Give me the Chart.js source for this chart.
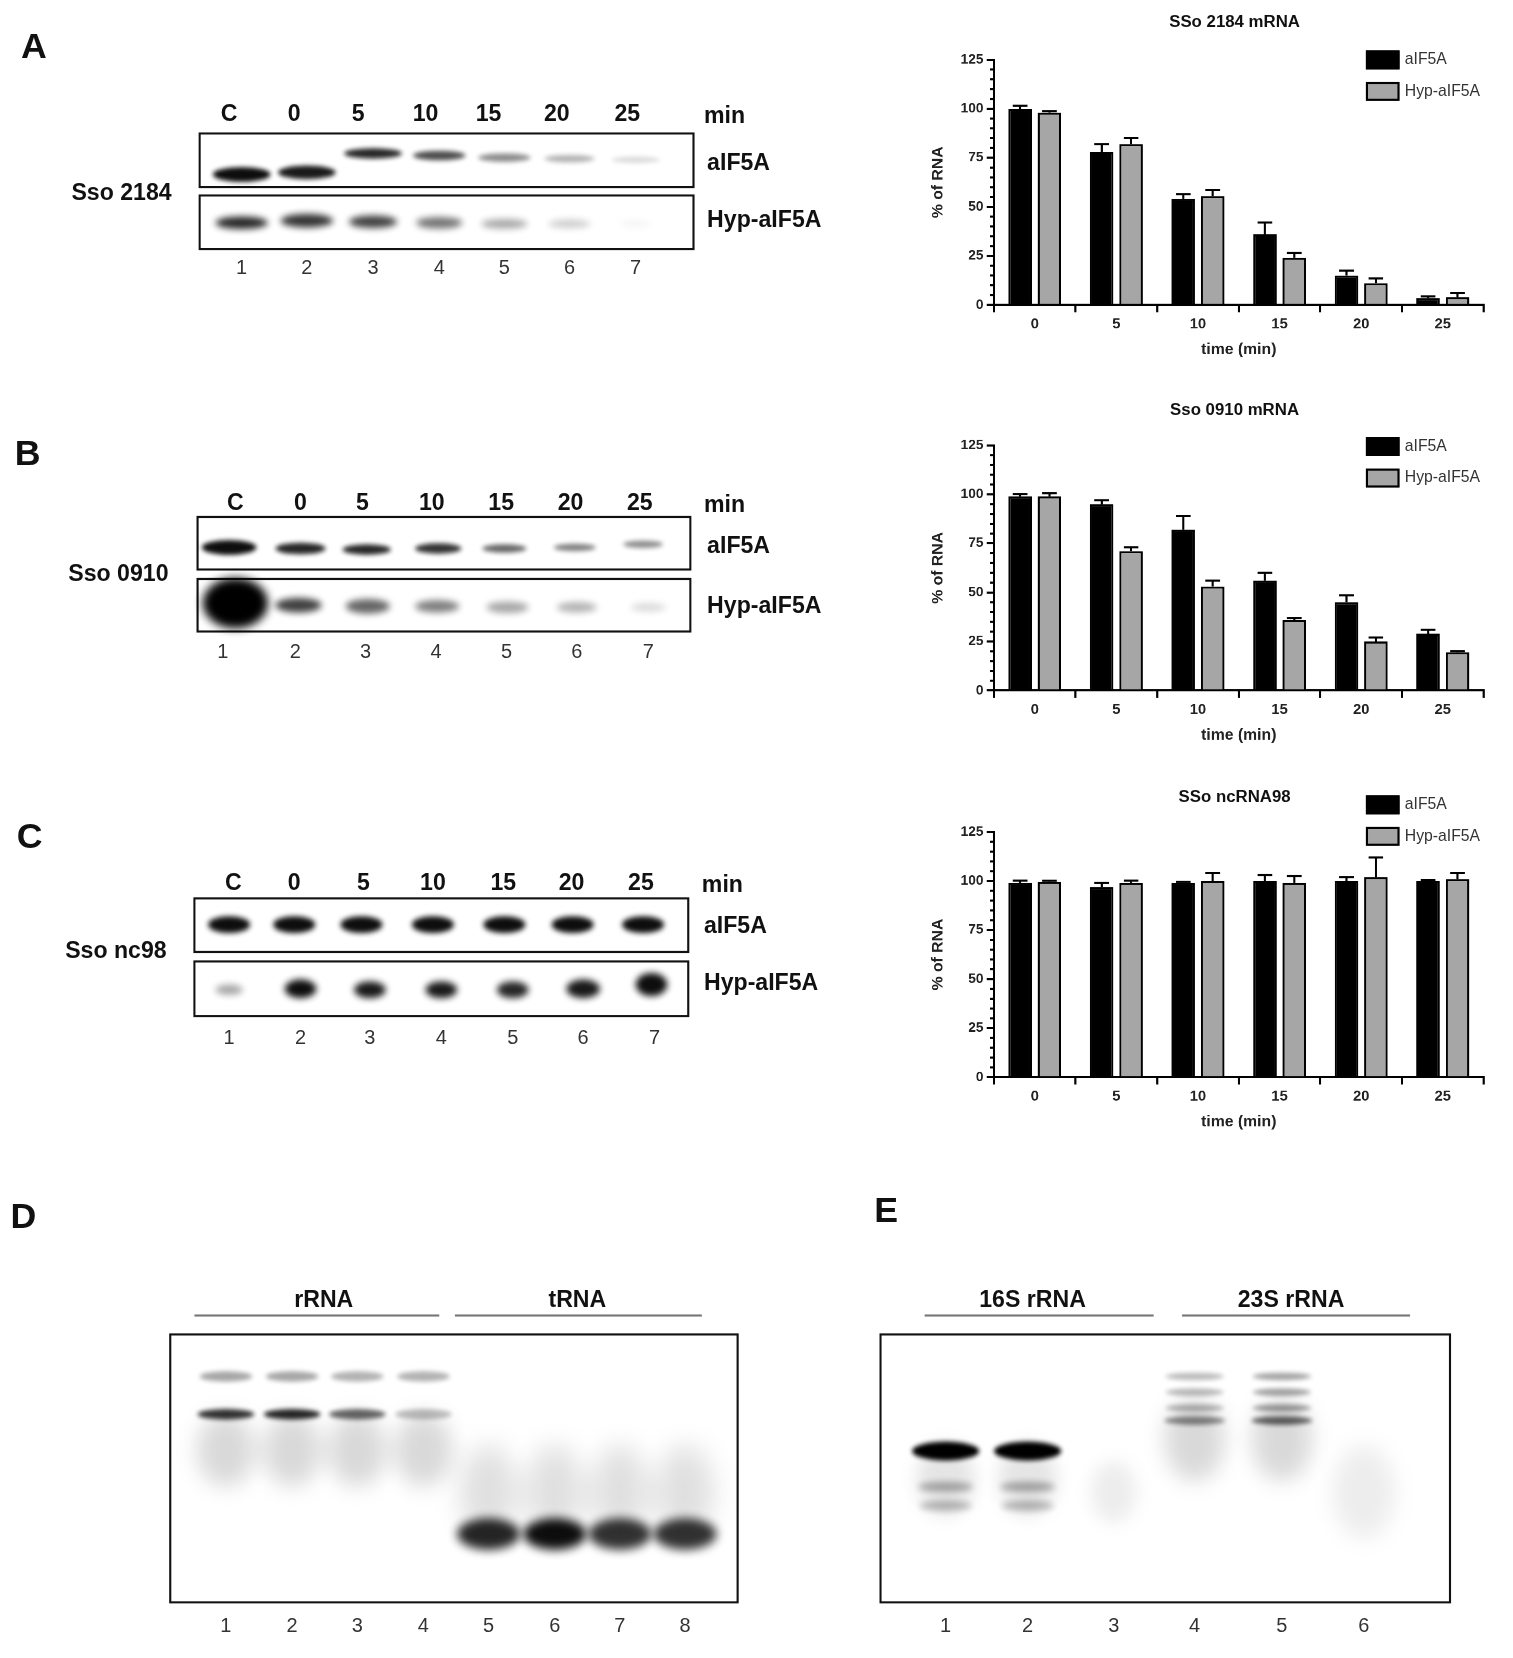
<!DOCTYPE html>
<html><head><meta charset="utf-8">
<script src="https://cdn.jsdelivr.net/npm/chart.js@4.4.0/dist/chart.umd.min.js"></script>
<style>
body{margin:0;background:#fff;font-family:"Liberation Sans",Arial,sans-serif;}
#outer{position:relative;width:1513px;height:1658px;overflow:hidden;}
#page{position:absolute;left:0;top:0;width:1440px;height:1578px;transform:scale(1.0507);transform-origin:0 0;}
.t{position:absolute;white-space:nowrap;color:#111;}
.letter{font-size:34px;font-weight:bold;}
.lane{font-size:22px;font-weight:bold;transform:translateX(-50%);}
.num{font-size:19px;color:#333;transform:translateX(-50%);}
.lbl{font-size:22px;font-weight:bold;}
.ctitle{font-size:16px;font-weight:bold;transform:translateX(-50%);}
.leg{font-size:15px;color:#333;}
.sw{position:absolute;width:28px;height:14px;border:2px solid #000;}
.cbox{position:absolute;}
#gel{position:absolute;left:0;top:0;}
</style></head><body><div id="outer"><div id="page">
<canvas id="gel" width="1440" height="1578"></canvas>
<div id="txt"></div>
<div class="cbox" style="left:880px;top:46px;width:552px;height:300px"><canvas id="cA"></canvas></div>
<div class="cbox" style="left:880px;top:413px;width:552px;height:300px"><canvas id="cB"></canvas></div>
<div class="cbox" style="left:880px;top:781px;width:552px;height:300px"><canvas id="cC"></canvas></div>
</div></div>
<script>
// time points (min)
const times = ['0', '5', '10', '15', '20', '25'];
const seriesNames = ['aIF5A', 'Hyp-aIF5A'];

// SSo 2184 mRNA
const a_aif = [100, 78, 54, 36, 15, 3.5];
const a_aifErr = [1.5, 4, 2.5, 6, 2.5, 0.8];
const a_hyp = [98, 82, 55.5, 24, 11, 4];
const a_hypErr = [0.8, 3, 3, 2.5, 2.5, 2];
// Sso 0910 mRNA
const b_aif = [99, 95, 82, 56, 45, 29];
const b_aifErr = [1.2, 2, 7, 4, 3.5, 2];
const b_hyp = [99, 71, 53, 36, 25, 19.5];
const b_hypErr = [1.5, 2, 3, 1, 2, 0.6];
// SSo ncRNA98
const c_aif = [99, 97, 99, 100, 100, 100];
const c_aifErr = [1.2, 2, 0.5, 3, 2, 0.5];
const c_hyp = [99.5, 99, 100, 99, 102, 101];
const c_hypErr = [0.6, 1.2, 4, 3.5, 10, 3];

const errPlugin = {
  id: 'err',
  afterDatasetsDraw(chart) {
    const ctx = chart.ctx, y = chart.scales.y;
    ctx.save();
    ctx.strokeStyle = '#000'; ctx.lineWidth = 2;
    chart.data.datasets.forEach((ds, i) => {
      chart.getDatasetMeta(i).data.forEach((bar, j) => {
        const top = y.getPixelForValue(ds.data[j] + ds.err[j]);
        ctx.beginPath();
        ctx.moveTo(bar.x, bar.y); ctx.lineTo(bar.x, top);
        ctx.moveTo(bar.x - 7, top); ctx.lineTo(bar.x + 7, top);
        ctx.stroke();
      });
    });
    // minor y ticks
    const x0 = chart.chartArea.left;
    for (let v = 0; v <= 125; v += 5) {
      if (v % 25 === 0) continue;
      const py = y.getPixelForValue(v);
      ctx.beginPath(); ctx.moveTo(x0, py); ctx.lineTo(x0 - 4, py); ctx.stroke();
    }
    ctx.restore();
  }
};

function makeChart(id, aif, aifErr, hyp, hypErr) {
  new Chart(document.getElementById(id), {
    type: 'bar',
    data: {
      labels: times,
      datasets: [
        { label: seriesNames[0], data: aif, err: aifErr, backgroundColor: '#000', borderColor: '#000', borderWidth: 2 },
        { label: seriesNames[1], data: hyp, err: hypErr, backgroundColor: '#a6a6a6', borderColor: '#000', borderWidth: 2 }
      ]
    },
    options: {
      responsive: true, maintainAspectRatio: false, animation: false, devicePixelRatio: 2,
      datasets: { bar: { categoryPercentage: 0.72, barPercentage: 0.8 } },
      layout: { padding: { top: 10, right: 20 } },
      plugins: { legend: { display: false }, tooltip: { enabled: false } },
      scales: {
        x: {
          grid: { display: true, drawOnChartArea: false, color: '#000', lineWidth: 2, tickLength: 7 },
          border: { color: '#000', width: 2 },
          ticks: { color: '#222', font: { size: 14, weight: 'bold' } },
          title: { display: true, text: 'time (min)', color: '#222', font: { size: 15, weight: 'bold' }, padding: 4 }
        },
        y: {
          min: 0, max: 125,
          afterFit(s) { s.width = 66; },
          grid: { display: true, drawOnChartArea: false, color: '#000', lineWidth: 2, tickLength: 7 },
          border: { color: '#000', width: 2 },
          ticks: { stepSize: 25, color: '#222', font: { size: 13, weight: 'bold' } },
          title: { display: true, text: '% of RNA', color: '#222', font: { size: 15, weight: 'bold' } }
        }
      }
    },
    plugins: [errPlugin]
  });
}
makeChart('cA', a_aif, a_aifErr, a_hyp, a_hypErr);
makeChart('cB', b_aif, b_aifErr, b_hyp, b_hypErr);
makeChart('cC', c_aif, c_aifErr, c_hyp, c_hypErr);

// ---- text
const txt = document.getElementById('txt');
function T(cls, x, y, s) { const d = document.createElement('div'); d.className = 't ' + cls; d.style.left = x + 'px'; d.style.top = y + 'px'; d.textContent = s; txt.appendChild(d); }
T('letter', 20, 24, 'A'); T('letter', 14, 412, 'B'); T('letter', 16, 776, 'C'); T('letter', 10, 1138, 'D'); T('letter', 832, 1132, 'E');
const laneTxt = ['C', '0', '5', '10', '15', '20', '25'];
const panels = [
  { ly: 95, lx: [218, 280, 341, 405, 465, 530, 597], ny: 244, nx: [230, 292, 355, 418, 480, 542, 605], minX: 670, la: 142, lb: 196, lbx: 673, name: 'Sso 2184', nmx: 68, nmy: 170 },
  { ly: 465, lx: [224, 286, 345, 411, 477, 543, 609], ny: 609, nx: [212, 281, 348, 415, 482, 549, 617], minX: 670, la: 506, lb: 563, lbx: 673, name: 'Sso 0910', nmx: 65, nmy: 533 },
  { ly: 827, lx: [222, 280, 346, 412, 479, 544, 610], ny: 977, nx: [218, 286, 352, 420, 488, 555, 623], minX: 668, la: 868, lb: 922, lbx: 670, name: 'Sso nc98', nmx: 62, nmy: 892 }
];
panels.forEach(p => {
  laneTxt.forEach((s, i) => T('lane', p.lx[i], p.ly, s));
  T('lbl', p.minX, p.ly + 2, 'min');
  p.nx.forEach((x, i) => T('num', x, p.ny, String(i + 1)));
  T('lbl', p.lbx, p.la, 'aIF5A'); T('lbl', p.lbx, p.lb, 'Hyp-aIF5A');
  T('lbl', p.nmx, p.nmy, p.name);
});
[[1175, 12, 'SSo 2184 mRNA'], [1175, 381, 'Sso 0910 mRNA'], [1175, 749, 'SSo ncRNA98']].forEach(a => T('ctitle', a[0], a[1], a[2]));
[48, 416, 757].forEach(y => {
  const s1 = document.createElement('div'); s1.className = 'sw'; s1.style.cssText += `left:1300px;top:${y}px;background:#000`; txt.appendChild(s1);
  const s2 = document.createElement('div'); s2.className = 'sw'; s2.style.cssText += `left:1300px;top:${y + 30}px;background:#a6a6a6`; txt.appendChild(s2);
  T('leg', 1337, y - 1, 'aIF5A'); T('leg', 1337, y + 29, 'Hyp-aIF5A');
});
[215, 278, 340, 403, 465, 528, 590, 652].forEach((x, i) => T('num', x, 1536, String(i + 1)));
[900, 978, 1060, 1137, 1220, 1298].forEach((x, i) => T('num', x, 1536, String(i + 1)));
T('lbl', 280, 1224, 'rRNA'); T('lbl', 522, 1224, 'tRNA'); T('lbl', 932, 1224, '16S rRNA'); T('lbl', 1178, 1224, '23S rRNA');

// ---- gel pictures
const g = document.getElementById('gel').getContext('2d');
function box(x, y, w, h) { g.save(); g.strokeStyle = '#111'; g.lineWidth = 2; g.strokeRect(x, y, w, h); g.restore(); }
function band(x, y, w, h, a, blur) {
  g.save(); g.filter = `blur(${blur}px)`; g.fillStyle = `rgba(0,0,0,${a})`;
  g.beginPath(); g.ellipse(x, y, w / 2, h / 2, 0, 0, Math.PI * 2); g.fill(); g.restore();
}
function line(x1, x2, y) { g.save(); g.strokeStyle = '#777'; g.lineWidth = 2; g.beginPath(); g.moveTo(x1, y); g.lineTo(x2, y); g.stroke(); g.restore(); }
// A
box(190, 127, 470, 51); box(190, 186, 470, 51);
[[230, 166, 55, 14, .95], [292, 164, 55, 13, .9], [355, 146, 55, 10, .85], [418, 148, 50, 9, .7], [480, 150, 50, 8, .45], [542, 151, 48, 7, .3], [605, 152, 46, 6, .15]].forEach(b => band(b[0], b[1], b[2], b[3], b[4], 2));
[[230, 212, 50, 12, .85], [292, 210, 50, 13, .8], [355, 211, 46, 12, .75], [418, 212, 44, 11, .55], [480, 213, 44, 9, .35], [542, 213, 40, 8, .2], [605, 213, 30, 6, .05]].forEach(b => band(b[0], b[1], b[2], b[3], b[4], 3));
// B
box(188, 492, 469, 50); box(188, 551, 469, 50);
[[218, 521, 52, 14, .95], [286, 522, 48, 11, .85], [349, 523, 46, 10, .85], [417, 522, 44, 10, .8], [480, 522, 42, 8, .6], [547, 521, 40, 7, .5], [612, 518, 38, 7, .45]].forEach(b => band(b[0], b[1], b[2], b[3], b[4], 2));
[[224, 574, 62, 48, 1, 4], [284, 576, 44, 14, .75, 3], [350, 577, 42, 14, .6, 3], [416, 577, 42, 12, .5, 3], [483, 578, 40, 11, .35, 3], [549, 578, 38, 10, .3, 3], [617, 578, 34, 8, .15, 3]].forEach(b => band(b[0], b[1], b[2], b[3], b[4], b[5]));
// C
box(185, 855, 470, 51); box(185, 915, 470, 52);
[218, 280, 344, 412, 480, 545, 612].forEach(x => band(x, 880, 40, 16, .95, 2.5));
[[218, 942, 26, 10, .35], [286, 941, 30, 18, .95], [352, 942, 30, 16, .9], [420, 942, 30, 16, .9], [488, 942, 30, 16, .85], [555, 941, 32, 18, .9], [620, 937, 30, 22, .95]].forEach(b => band(b[0], b[1], b[2], b[3], b[4], 3));
// D
line(185, 418, 1252); line(433, 668, 1252); box(162, 1270, 540, 255);
[[215, .8, .35], [278, .85, .35], [340, .6, .3], [403, .25, .3]].forEach(l => {
  band(l[0], 1310, 50, 10, l[2], 2);
  band(l[0], 1346, 54, 10, l[1], 2);
  band(l[0], 1380, 56, 70, .15, 10);
});
[[465, .85], [528, .95], [590, .8], [652, .8]].forEach(l => {
  band(l[0], 1420, 56, 90, .12, 12);
  band(l[0], 1460, 60, 30, l[1], 5);
});
// E
line(880, 1098, 1252); line(1125, 1342, 1252); box(838, 1270, 542, 255);
[[900, 1], [978, 1]].forEach(l => {
  band(l[0], 1381, 64, 18, l[1], 2);
  band(l[0], 1415, 52, 10, .3, 3);
  band(l[0], 1433, 50, 10, .25, 3);
  band(l[0], 1408, 56, 70, .1, 8);
});
band(1060, 1420, 44, 60, .07, 8);
[[1137, .45], [1220, .6]].forEach(l => {
  [1310, 1325, 1340].forEach(y => band(l[0], y, 56, 7, l[1] * .6, 2));
  band(l[0], 1352, 58, 8, l[1], 2);
  band(l[0], 1370, 58, 80, .15, 10);
});
band(1298, 1420, 60, 90, .07, 10);
</script></body></html>
